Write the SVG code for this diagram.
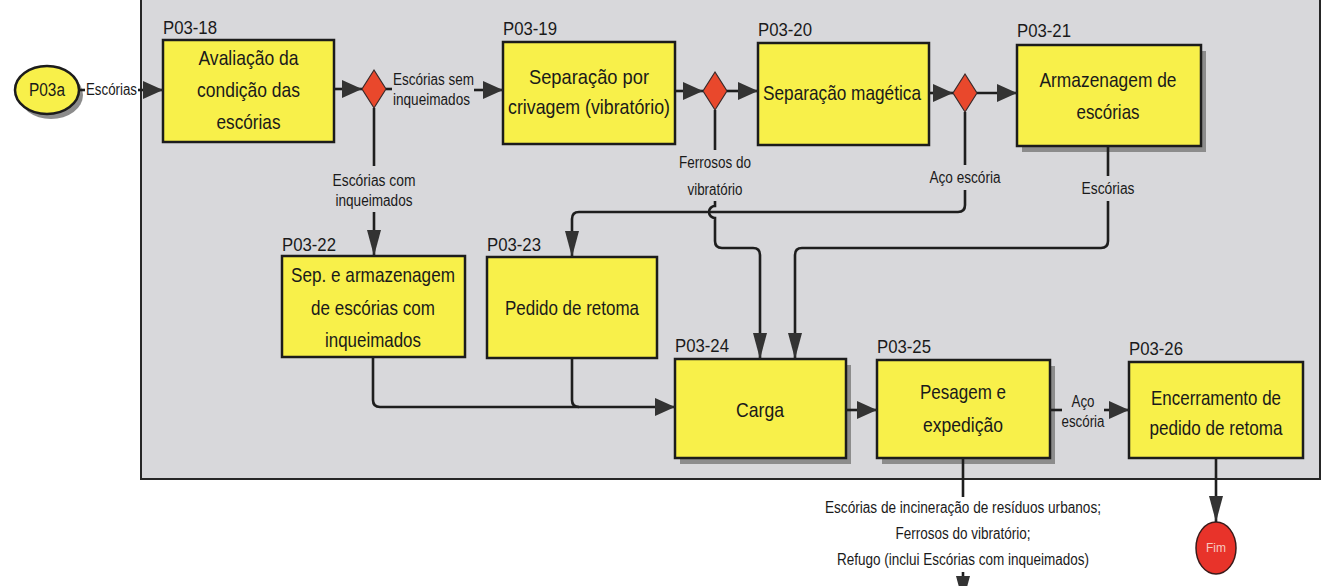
<svg xmlns="http://www.w3.org/2000/svg" width="1325" height="586" viewBox="0 0 1325 586">
<style>
.box{fill:#f8f04a;stroke:#1c1c1c;stroke-width:2.5}
.shadow{fill:#8c8c8c}
.dia{fill:#e9482c;stroke:#3a2a2a;stroke-width:1.2}
.lbl{font-family:"Liberation Sans",Arial,sans-serif;font-size:18px;fill:#1a1a1a}
.bt{font-family:"Liberation Sans",Arial,sans-serif;font-size:21px;fill:#1a1a1a;text-anchor:middle}
.ct{font-family:"Liberation Sans",Arial,sans-serif;font-size:16px;fill:#1a1a1a}
.cm{text-anchor:middle}
.ln{fill:none;stroke:#1e1e1e;stroke-width:2.6}
</style>
<defs>
<marker id="ah" markerUnits="userSpaceOnUse" markerWidth="20" markerHeight="18" refX="20" refY="9" orient="auto" viewBox="0 0 20 18">
<path d="M0,0 L20,9 L0,18 Z" fill="#333"/>
</marker>
<marker id="av" markerUnits="userSpaceOnUse" markerWidth="26" markerHeight="14" refX="26" refY="7" orient="auto" viewBox="0 0 26 14">
<path d="M0,0 L26,7 L0,14 Z" fill="#333"/>
</marker>
</defs>
<rect x="0" y="0" width="1325" height="586" fill="#ffffff"/>
<rect id="container" x="141" y="-10" width="1179" height="489" fill="#d8d8db" stroke="#262626" stroke-width="2"/>

<g id="P03a">
<ellipse cx="51" cy="95" rx="32" ry="24" class="shadow"/>
<ellipse cx="47" cy="90" rx="32" ry="24" fill="#f8f04a" stroke="#1c1c1c" stroke-width="2.5"/>
<text x="47" y="96" class="bt" font-size="18" style="font-size:18px" textLength="36" lengthAdjust="spacingAndGlyphs">P03a</text>
</g>

<g id="P03-18">
<text x="163" y="34" class="lbl" textLength="54" lengthAdjust="spacingAndGlyphs">P03-18</text>
<rect x="163" y="40" width="171" height="102" class="box"/>
<text x="248.5" y="65" class="bt" textLength="100" lengthAdjust="spacingAndGlyphs">Avaliação da</text>
<text x="248.5" y="97" class="bt" textLength="103" lengthAdjust="spacingAndGlyphs">condição das</text>
<text x="248.5" y="129" class="bt" textLength="64" lengthAdjust="spacingAndGlyphs">escórias</text>
</g>

<g id="D1"><path d="M374,70 L386,89 L374,108 L362,89 Z" class="dia"/></g>

<g id="P03-19">
<text x="503" y="35" class="lbl" textLength="54" lengthAdjust="spacingAndGlyphs">P03-19</text>
<rect x="503" y="42" width="172" height="102" class="box"/>
<text x="589" y="84" class="bt" textLength="120" lengthAdjust="spacingAndGlyphs">Separação por</text>
<text x="589" y="114" class="bt" textLength="162" lengthAdjust="spacingAndGlyphs">crivagem (vibratório)</text>
</g>

<g id="D2"><path d="M715,72 L727,91 L715,110 L703,91 Z" class="dia"/></g>

<g id="P03-20">
<text x="758" y="36" class="lbl" textLength="54" lengthAdjust="spacingAndGlyphs">P03-20</text>
<rect x="758" y="43" width="171" height="102" class="box"/>
<text x="842" y="100" class="bt" textLength="158" lengthAdjust="spacingAndGlyphs">Separação magética</text>
</g>

<g id="D3"><path d="M965,74 L977,93 L965,112 L953,93 Z" class="dia"/></g>

<g id="P03-21">
<text x="1017" y="37" class="lbl" textLength="54" lengthAdjust="spacingAndGlyphs">P03-21</text>
<rect x="1022" y="51" width="184" height="101" class="shadow"/>
<rect x="1017" y="45" width="184" height="101" class="box"/>
<text x="1108" y="87" class="bt" textLength="137" lengthAdjust="spacingAndGlyphs">Armazenagem de</text>
<text x="1108" y="119" class="bt" textLength="63" lengthAdjust="spacingAndGlyphs">escórias</text>
</g>

<g id="P03-22">
<text x="282" y="251" class="lbl" textLength="54" lengthAdjust="spacingAndGlyphs">P03-22</text>
<rect x="282" y="256" width="183" height="101" class="box"/>
<text x="373" y="282" class="bt" textLength="164" lengthAdjust="spacingAndGlyphs">Sep. e armazenagem</text>
<text x="373" y="315" class="bt" textLength="124" lengthAdjust="spacingAndGlyphs">de escórias com</text>
<text x="373" y="347" class="bt" textLength="96" lengthAdjust="spacingAndGlyphs">inqueimados</text>
</g>

<g id="P03-23">
<text x="487" y="251" class="lbl" textLength="54" lengthAdjust="spacingAndGlyphs">P03-23</text>
<rect x="487" y="257" width="170" height="101" class="box"/>
<text x="572" y="315" class="bt" textLength="134" lengthAdjust="spacingAndGlyphs">Pedido de retoma</text>
</g>

<g id="P03-24">
<text x="675" y="352" class="lbl" textLength="54" lengthAdjust="spacingAndGlyphs">P03-24</text>
<rect x="680" y="365" width="171" height="99" class="shadow"/>
<rect x="675" y="359" width="171" height="99" class="box"/>
<text x="760" y="417" class="bt" textLength="48" lengthAdjust="spacingAndGlyphs">Carga</text>
</g>

<g id="P03-25">
<text x="877" y="353" class="lbl" textLength="54" lengthAdjust="spacingAndGlyphs">P03-25</text>
<rect x="882" y="366" width="173" height="98" class="shadow"/>
<rect x="877" y="360" width="173" height="98" class="box"/>
<text x="963" y="399" class="bt" textLength="86" lengthAdjust="spacingAndGlyphs">Pesagem e</text>
<text x="963" y="432" class="bt" textLength="80" lengthAdjust="spacingAndGlyphs">expedição</text>
</g>

<g id="P03-26">
<text x="1129" y="355" class="lbl" textLength="54" lengthAdjust="spacingAndGlyphs">P03-26</text>
<rect x="1129" y="362" width="174" height="96" class="box"/>
<text x="1216" y="405" class="bt" textLength="130" lengthAdjust="spacingAndGlyphs">Encerramento de</text>
<text x="1216" y="435" class="bt" textLength="133" lengthAdjust="spacingAndGlyphs">pedido de retoma</text>
</g>

<g id="Fim">
<ellipse cx="1216" cy="548" rx="20" ry="26" fill="#e8332a" stroke="#3a1a1a" stroke-width="1.5"/>
<text x="1216" y="552" class="cm" font-family="Liberation Sans, Arial, sans-serif" font-size="12" fill="#f7c9c0">Fim</text>
</g>

<g id="connectors">
<path d="M79,90 H85" class="ln"/>
<path d="M138,90 H163" class="ln" marker-end="url(#ah)"/>
<path d="M334,89 H362" class="ln" marker-end="url(#ah)"/>
<path d="M386,89 H392" class="ln"/>
<path d="M474,90 H503" class="ln" marker-end="url(#ah)"/>
<path d="M374,108 V166" class="ln"/>
<path d="M374,212 V256" class="ln" marker-end="url(#av)"/>
<path d="M675,91 H703" class="ln" marker-end="url(#ah)"/>
<path d="M727,91 H758" class="ln" marker-end="url(#ah)"/>
<path d="M929,93 H953" class="ln" marker-end="url(#ah)"/>
<path d="M977,93 H1017" class="ln" marker-end="url(#ah)"/>
<path d="M715,110 V150" class="ln"/>
<path d="M715,201 V206 A6,6 0 0 0 715,218 V241 Q715,248 722,248 H753 Q760,248 760,255 V359" class="ln" marker-end="url(#av)"/>
<path d="M965,112 V165" class="ln"/>
<path d="M965,190 V205 Q965,212 958,212 H579 Q572,212 572,219 V257" class="ln" marker-end="url(#av)"/>
<path d="M1108,146 V176" class="ln"/>
<path d="M1108,201 V241 Q1108,248 1101,248 H802 Q795,248 795,255 V359" class="ln" marker-end="url(#av)"/>
<path d="M373,357 V400 Q373,407 380,407 H675" class="ln" marker-end="url(#ah)"/>
<path d="M572,358 V400 Q572,407 579,407" class="ln"/>
<path d="M846,410 H877" class="ln" marker-end="url(#ah)"/>
<path d="M1050,410 H1062" class="ln"/>
<path d="M1104,410 H1129" class="ln" marker-end="url(#ah)"/>
<path d="M963,458 V497" class="ln"/>
<path d="M963,572 V602" class="ln" marker-end="url(#av)"/>
<path d="M1216,458 V522" class="ln" marker-end="url(#av)"/>
</g>

<g id="labels">
<text x="86" y="95" class="ct" textLength="51" lengthAdjust="spacingAndGlyphs">Escórias</text>
<text x="393" y="85" class="ct" textLength="81" lengthAdjust="spacingAndGlyphs">Escórias sem</text>
<text x="393" y="105" class="ct" textLength="77" lengthAdjust="spacingAndGlyphs">inqueimados</text>
<text x="374" y="186" class="ct cm" textLength="83" lengthAdjust="spacingAndGlyphs">Escórias com</text>
<text x="374" y="206" class="ct cm" textLength="77" lengthAdjust="spacingAndGlyphs">inqueimados</text>
<text x="715" y="168" class="ct cm" textLength="72" lengthAdjust="spacingAndGlyphs">Ferrosos do</text>
<text x="715" y="195" class="ct cm" textLength="55" lengthAdjust="spacingAndGlyphs">vibratório</text>
<text x="965" y="183" class="ct cm" textLength="71" lengthAdjust="spacingAndGlyphs">Aço escória</text>
<text x="1108" y="194" class="ct cm" textLength="53" lengthAdjust="spacingAndGlyphs">Escórias</text>
<text x="1083" y="407" class="ct cm" textLength="23" lengthAdjust="spacingAndGlyphs">Aço</text>
<text x="1083" y="427" class="ct cm" textLength="43" lengthAdjust="spacingAndGlyphs">escória</text>
<text x="963" y="513" class="ct cm" textLength="276" lengthAdjust="spacingAndGlyphs">Escórias de incineração de resíduos urbanos;</text>
<text x="963" y="539" class="ct cm" textLength="135" lengthAdjust="spacingAndGlyphs">Ferrosos do vibratório;</text>
<text x="963" y="565" class="ct cm" textLength="252" lengthAdjust="spacingAndGlyphs">Refugo (inclui Escórias com inqueimados)</text>
</g>
</svg>
